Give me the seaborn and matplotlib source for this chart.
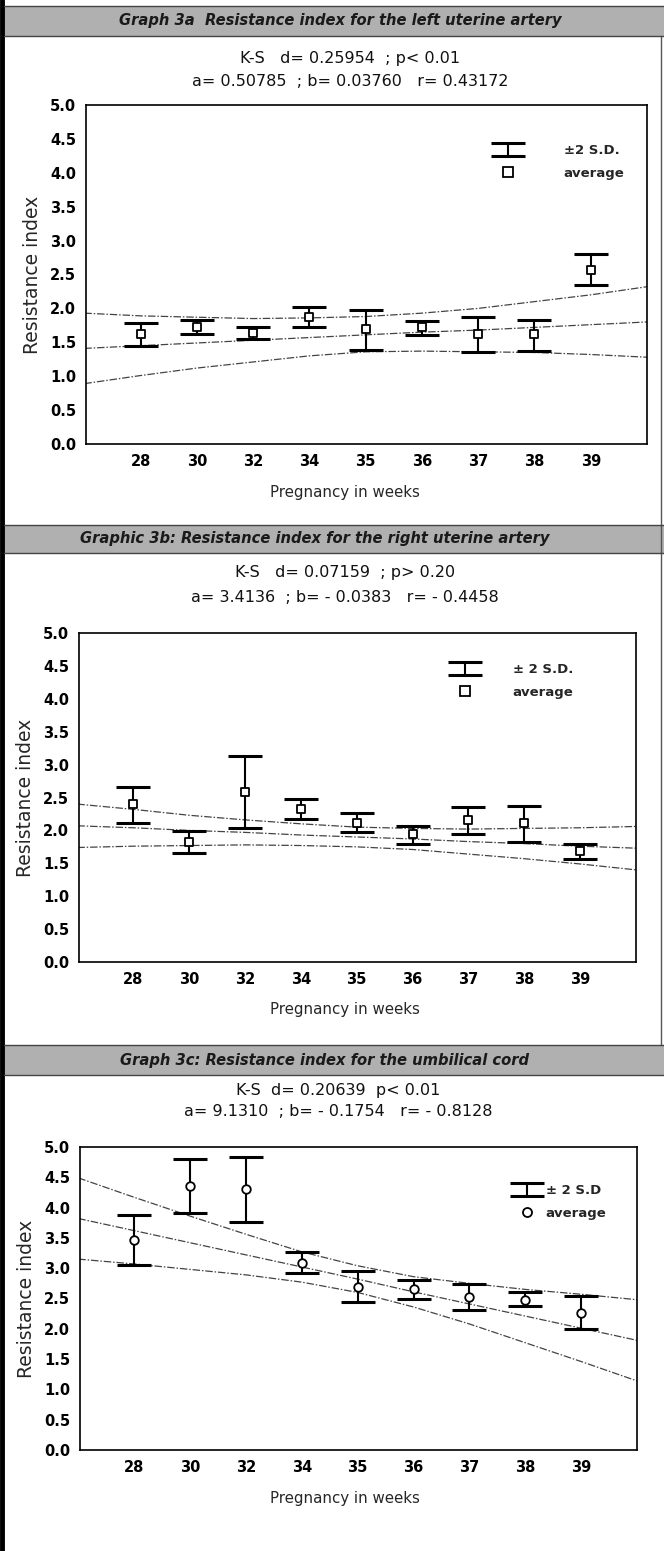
import numpy as np
import pandas as pd
import matplotlib
matplotlib.use("Agg")
import matplotlib.pyplot as plt
import seaborn as sns
from matplotlib.lines import Line2D
from matplotlib.patches import Rectangle

# ---------------- data ----------------
weeks = ["28", "30", "32", "34", "35", "36", "37", "38", "39"]
band_pos = [-1, 0, 1, 2, 3, 4, 5, 6, 7, 8, 9]

# Graph 3a - left uterine artery
left_mean = [1.62, 1.72, 1.64, 1.88, 1.69, 1.72, 1.62, 1.62, 2.57]
left_upper = [1.79, 1.83, 1.72, 2.02, 1.98, 1.82, 1.87, 1.83, 2.80]
left_lower = [1.45, 1.62, 1.55, 1.73, 1.38, 1.61, 1.36, 1.37, 2.34]
left_band_up = [1.93, 1.89, 1.87, 1.85, 1.86, 1.88, 1.93, 2.00, 2.10, 2.20, 2.32]
left_band_mid = [1.41, 1.45, 1.49, 1.53, 1.57, 1.61, 1.65, 1.68, 1.72, 1.76, 1.80]
left_band_lo = [0.89, 1.01, 1.12, 1.21, 1.30, 1.36, 1.37, 1.36, 1.35, 1.32, 1.28]

# Graphic 3b - right uterine artery
right_mean = [2.40, 1.82, 2.58, 2.33, 2.12, 1.94, 2.16, 2.11, 1.68]
right_upper = [2.66, 1.99, 3.13, 2.47, 2.26, 2.07, 2.36, 2.37, 1.79]
right_lower = [2.12, 1.65, 2.03, 2.18, 1.97, 1.79, 1.94, 1.83, 1.57]
right_band_up = [2.40, 2.32, 2.23, 2.16, 2.10, 2.05, 2.03, 2.02, 2.03, 2.04, 2.06]
right_band_mid = [2.07, 2.04, 2.00, 1.97, 1.93, 1.90, 1.87, 1.83, 1.80, 1.76, 1.73]
right_band_lo = [1.74, 1.76, 1.77, 1.78, 1.77, 1.75, 1.71, 1.64, 1.57, 1.49, 1.40]

# Graph 3c - umbilical cord
umb_mean = [3.47, 4.36, 4.30, 3.08, 2.69, 2.65, 2.52, 2.48, 2.26]
umb_upper = [3.88, 4.80, 4.83, 3.27, 2.95, 2.81, 2.74, 2.61, 2.54]
umb_lower = [3.05, 3.91, 3.77, 2.92, 2.44, 2.50, 2.31, 2.37, 1.99]
umb_band_up = [4.49, 4.17, 3.86, 3.56, 3.27, 3.04, 2.86, 2.75, 2.65, 2.57, 2.48]
umb_band_mid = [3.82, 3.62, 3.42, 3.22, 3.02, 2.82, 2.61, 2.41, 2.21, 2.01, 1.81]
umb_band_lo = [3.15, 3.07, 2.98, 2.89, 2.77, 2.60, 2.36, 2.08, 1.77, 1.46, 1.14]

y_ticks = [0.0, 0.5, 1.0, 1.5, 2.0, 2.5, 3.0, 3.5, 4.0, 4.5, 5.0]

titles = ["Graph 3a  Resistance index for the left uterine artery",
          "Graphic 3b: Resistance index for the right uterine artery",
          "Graph 3c: Resistance index for the umbilical cord"]
ks_lines = ["K-S   d= 0.25954  ; p< 0.01",
            "K-S   d= 0.07159  ; p> 0.20",
            "K-S  d= 0.20639  p< 0.01"]
ab_lines = ["a= 0.50785  ; b= 0.03760   r= 0.43172",
            "a= 3.4136  ; b= - 0.0383   r= - 0.4458",
            "a= 9.1310  ; b= - 0.1754   r= - 0.8128"]
sd_labels = ["±2 S.D.", "± 2 S.D.", "± 2 S.D"]
avg_label = "average"
x_label = "Pregnancy in weeks"
y_label = "Resistance index"

# ---------------- style ----------------
sns.set_style("white")
plt.rcParams['font.family'] = ['DejaVu Sans']
plt.rcParams['axes.linewidth'] = 1.2

W, H = 664, 1551
fig = plt.figure(figsize=(W / 100, H / 100), dpi=100)
fig.patch.set_facecolor("white")

def fy(py):
    return 1 - py / H

layout = [
    dict(header=(6, 36), tx=340, ks=59, ab=82, sx=350, ax=(86, 647, 105, 444), xl=492,
         leg=(0.72, 0.90), tpad=3.2, marker='s'),
    dict(header=(525, 553), tx=315, ks=573, ab=597, sx=345, ax=(79, 636, 633, 962), xl=1010,
         leg=(0.66, 0.925), tpad=2.6, marker='s'),
    dict(header=(1045, 1075), tx=325, ks=1090, ab=1112, sx=338, ax=(80, 637, 1147, 1450), xl=1498,
         leg=(0.77, 0.895), tpad=0.4, marker='o'),
]
series = [
    (left_mean, left_upper, left_lower, left_band_up, left_band_mid, left_band_lo),
    (right_mean, right_upper, right_lower, right_band_up, right_band_mid, right_band_lo),
    (umb_mean, umb_upper, umb_lower, umb_band_up, umb_band_mid, umb_band_lo),
]

# figure frame lines
fig.add_artist(Line2D([2 / W, 2 / W], [0, 1], transform=fig.transFigure, color="black", lw=3.5))
fig.add_artist(Line2D([661 / W, 661 / W], [fy(36), fy(1045)], transform=fig.transFigure,
                      color="#555555", lw=1.0))

for i, (lay, ser) in enumerate(zip(layout, series)):
    mean, up, lo, bup, bmid, blo = [np.asarray(s) for s in ser]
    # header band
    h0, h1 = lay["header"]
    fig.add_artist(Rectangle((4 / W, fy(h1)), 1 - 4 / W, (h1 - h0) / H, transform=fig.transFigure,
                             facecolor="#b0b0b0", edgecolor="none"))
    for yy in (h0, h1):
        fig.add_artist(Line2D([4 / W, 1], [fy(yy), fy(yy)], transform=fig.transFigure,
                              color="#444444", lw=1.0))
    fig.text(lay["tx"] / W, fy((h0 + h1) / 2), titles[i], ha="center", va="center",
             fontsize=10.6, fontweight="bold", fontstyle="italic", color="#1a1a1a")
    fig.text(lay["sx"] / W, fy(lay["ks"]), ks_lines[i], ha="center", va="center",
             fontsize=11.5, color="#111111")
    fig.text(lay["sx"] / W, fy(lay["ab"]), ab_lines[i], ha="center", va="center",
             fontsize=11.5, color="#111111")

    x0, x1, y0, y1 = lay["ax"]
    ax = fig.add_axes([x0 / W, fy(y1), (x1 - x0) / W, (y1 - y0) / H])
    pos = np.arange(len(weeks))

    # regression line and confidence bands
    for band in (bup, bmid, blo):
        sns.lineplot(x=band_pos, y=band, ax=ax, color="#444444", lw=0.9,
                     linestyle=(0, (6, 1.5, 1.2, 1.5)), sort=False, estimator=None)

    eb = ax.errorbar(pos, mean, yerr=[mean - lo, up - mean], fmt="none", ecolor="black",
                     elinewidth=1.5, capsize=12.5, capthick=2.2, zorder=4)
    df = pd.DataFrame({"pos": pos, "mean": mean})
    sns.scatterplot(data=df, x="pos", y="mean", marker=lay["marker"], s=38, color="white",
                    edgecolor="black", linewidth=1.3, ax=ax, zorder=5)

    ax.set_xlim(-0.97, 9.0)
    ax.set_ylim(0, 5)
    ax.set_xticks(pos)
    ax.set_xticklabels(weeks)
    ax.set_yticks(y_ticks)
    ax.set_yticklabels([f"{v:.1f}" for v in y_ticks])
    ax.tick_params(axis="both", direction="in", length=3, width=1, labelsize=10.5,
                   pad=7, colors="black")
    for lab in ax.get_xticklabels() + ax.get_yticklabels():
        lab.set_fontweight("bold")
    for sp in ax.spines.values():
        sp.set_visible(True)
        sp.set_color("black")
        sp.set_linewidth(1.2)
    ax.set_xlabel("")
    ax.set_ylabel(y_label, fontsize=13.5, labelpad=6)
    fig.text(345 / W, fy(lay["xl"]), x_label, ha="center", va="center", fontsize=10.8)

    avg_handle = Line2D([], [], marker=lay["marker"], ls="none", markersize=6.5,
                        markerfacecolor="white", markeredgecolor="black", markeredgewidth=1.3)
    leg = ax.legend(handles=[eb, avg_handle], labels=[sd_labels[i], avg_label], loc="upper left",
                    bbox_to_anchor=lay["leg"], frameon=False, fontsize=9.5,
                    handletextpad=lay["tpad"], labelspacing=0.75, handlelength=2.0,
                    borderaxespad=0)
    for t in leg.get_texts():
        t.set_fontweight("bold")

fig.savefig("out.png", dpi=100, facecolor="white")
